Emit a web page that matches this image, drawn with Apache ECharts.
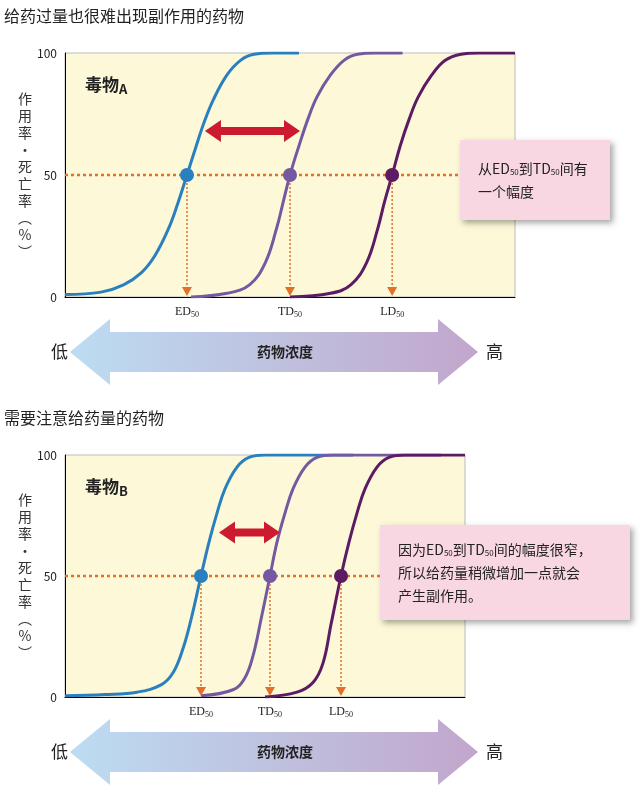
<!DOCTYPE html><html><head><meta charset="utf-8">
<script src="https://cdn.jsdelivr.net/npm/echarts@6/dist/echarts.min.js"></script>
<style>html,body{margin:0;padding:0;background:#fff}#c{width:643px;height:808px}</style></head><body><div id="c"></div>
<script>
const yTicks=[0,50,100];
const aBlue=[[0,1],[8,2],[13,5],[17,10],[20,17],[23,28],[25,38],[27.1,50],[29,61],[31,72],[33,81],[36,91],[39,97],[42,99.5],[46,100],[52,100]];
const aPurple=[[28,0],[36,1.5],[41,5],[44.5,14],[47,28],[48.5,39],[50,50],[52,62],[54,73],[56,82],[59,91],[62,97],[65,99.5],[69,100],[75,100]];
const aDark=[[50,0],[59,1.5],[63.5,5],[67,14],[69.5,28],[71,39],[72.7,50],[74.5,62],[76.5,73],[78.5,82],[81.5,91],[84.5,97],[88,99.5],[92,100],[100,100]];
const bBlue=[[0,0.5],[10,1],[18,2],[24,5],[27,10],[29.5,20],[31.5,32],[34,50],[36,64],[38,76],[40,86],[43,95],[46,99],[50,100],[72,100]];
const bPurple=[[34,0.5],[42,3],[45,8],[47,17],[49,32],[51.25,50],[53,64],[55,76],[57,86],[60,95],[63,99],[67,100],[94,100]];
const bDark=[[50,0],[58,2],[62,6],[64.5,14],[66.5,30],[69,50],[71,64],[73,76],[75,86],[78,95],[81,99],[85,100],[100,100]];
const aMid=[27.1,50,72.7], bMid=[34,51.25,69];
const midLabels=['ED','TD','LD'];
const colors=['#2a80bf','#7458a0','#5c1b62'];
const F='"Noto Sans CJK SC", sans-serif';
const chart=echarts.init(document.getElementById('c'));
function yAx(i){return {type:'value',gridIndex:i,min:0,max:100,interval:50,axisLine:{show:true,lineStyle:{color:'#000'}},axisTick:{show:false},splitLine:{show:false},axisLabel:{color:'#222',fontSize:12,fontFamily:F,margin:8}};}
function xAx(i){return {type:'value',gridIndex:i,min:0,max:100,axisLine:{show:true,lineStyle:{color:'#000'}},axisTick:{show:false},axisLabel:{show:false},splitLine:{show:false}};}
function curve(d,c,i){return {type:'line',xAxisIndex:i,yAxisIndex:i,data:d,smooth:0.4,showSymbol:false,lineStyle:{color:c,width:3},silent:true,z:3};}
const series=[curve(aBlue,colors[0],0),curve(aPurple,colors[1],0),curve(aDark,colors[2],0),curve(bBlue,colors[0],1),curve(bPurple,colors[1],1),curve(bDark,colors[2],1)];
series.push({type:'scatter',xAxisIndex:0,yAxisIndex:0,symbolSize:14,z:5,data:aMid.map((x,k)=>({value:[x,50],itemStyle:{color:colors[k],opacity:1}}))});
series.push({type:'scatter',xAxisIndex:1,yAxisIndex:1,symbolSize:14,z:5,data:bMid.map((x,k)=>({value:[x,50],itemStyle:{color:colors[k],opacity:1}}))});
chart.setOption({animation:false,
grid:[{left:65,top:53,width:450,height:244,show:true,backgroundColor:'#fcf8d8',borderColor:'#bbb'},{left:65,top:455,width:400,height:242,show:true,backgroundColor:'#fcf8d8',borderColor:'#bbb'}],
xAxis:[xAx(0),xAx(1)],yAxis:[yAx(0),yAx(1)],series});
const g=[];
const orange='#e0702a';
function txt(x,y,t,opt){g.push({type:'text',x,y,z:10,style:Object.assign({text:t,fill:'#222',font:'15px '+F},opt||{})});}
function arrowBig(yc){const x0=70,x1=478,hs=20,hh=33,hl=40;
 g.push({type:'polygon',z:1,shape:{points:[[x0,yc],[x0+hl,yc-hh],[x0+hl,yc-hs],[x1-hl,yc-hs],[x1-hl,yc-hh],[x1,yc],[x1-hl,yc+hh],[x1-hl,yc+hs],[x0+hl,yc+hs],[x0+hl,yc+hh]]},
 style:{fill:new echarts.graphic.LinearGradient(0,0,1,0,[{offset:0,color:'#bcdcf2'},{offset:1,color:'#c2a6cc'}])}});
 txt(68,yc,'低',{font:'17px '+F,verticalAlign:'middle',textAlign:'right'});
 txt(486,yc,'高',{font:'17px '+F,verticalAlign:'middle'});
 txt(285,yc,'药物浓度',{font:'bold 14px '+F,verticalAlign:'middle',textAlign:'center'});}
function panel(gi,mids,boxX,boxY,boxW,boxH,lines,arrowY,label,titleY,title){
 const p=mids.map(x=>chart.convertToPixel({gridIndex:gi},[x,50]));
 const y0=chart.convertToPixel({gridIndex:gi},[0,0])[1];
 const ya=chart.convertToPixel({gridIndex:gi},[0,arrowY])[1];
 const left=chart.convertToPixel({gridIndex:gi},[0,50])[0];
 txt(4,titleY,title,{font:'16px '+F,verticalAlign:'middle'});
 g.push({type:'line',z:4,shape:{x1:left,y1:p[0][1],x2:boxX,y2:p[0][1]},style:{stroke:orange,lineWidth:2.5,lineDash:[3,3]}});
 p.forEach((q,k)=>{g.push({type:'line',z:4,shape:{x1:q[0],y1:q[1],x2:q[0],y2:y0-8},style:{stroke:orange,lineWidth:1.5,lineDash:[2,2]}});
  g.push({type:'polygon',z:4,shape:{points:[[q[0]-5,y0-10],[q[0]+5,y0-10],[q[0],y0-1]]},style:{fill:orange}});
  g.push({type:'text',z:10,x:q[0],y:y0+15,style:{text:'{a|'+midLabels[k]+'}{s|50}',textAlign:'center',verticalAlign:'middle',rich:{a:{font:'12px "Liberation Serif", serif',fill:'#222'},s:{font:'8px "Liberation Serif", serif',fill:'#222',padding:[5,0,0,0]}}}});});
 const ax1=p[0][0]+18,ax2=p[1][0]+10;
 g.push({type:'polygon',z:6,shape:{points:[[ax1,ya],[ax1+16,ya-11],[ax1+16,ya-4],[ax2-16,ya-4],[ax2-16,ya-11],[ax2,ya],[ax2-16,ya+11],[ax2-16,ya+4],[ax1+16,ya+4],[ax1+16,ya+11]]},style:{fill:'#cc1a2e'}});
 g.push({type:'rect',z:7,shape:{x:boxX,y:boxY,width:boxW,height:boxH},style:{fill:'#f8d6e2',shadowBlur:6,shadowOffsetX:3,shadowOffsetY:3,shadowColor:'rgba(0,0,0,0.35)'}});
 g.push({type:'text',z:8,x:boxX+18,y:boxY+boxH/2,style:{text:lines,verticalAlign:'middle',lineHeight:23,font:'14px '+F,fill:'#222',rich:{s:{font:'8px '+F,padding:[6,0,0,0],fill:'#222'}}}});
 const gtop=chart.convertToPixel({gridIndex:gi},[0,100])[1];
 g.push({type:'text',z:8,x:85,y:gtop+32,style:{text:'{a|毒物}{b|'+label+'}',verticalAlign:'middle',rich:{a:{font:'bold 17px '+F,fill:'#222'},b:{font:'bold 13px '+F,fill:'#222',padding:[8,0,0,0]}}}});
 g.push({type:'text',z:8,x:25,y:(gtop+y0)/2,style:{text:'作\n用\n率\n・\n死\n亡\n率\n︵\n%\n︶',textAlign:'center',verticalAlign:'middle',lineHeight:17,font:'14px '+F,fill:'#333'}});
}
panel(0,aMid,460,140,150,80,'从ED{s|50}到TD{s|50}间有\n一个幅度',68,'A',16,'给药过量也很难出现副作用的药物');
panel(1,bMid,380,525,250,95,'因为ED{s|50}到TD{s|50}间的幅度很窄，\n所以给药量稍微增加一点就会\n产生副作用。',68,'B',418,'需要注意给药量的药物');
arrowBig(352);arrowBig(752);
chart.setOption({graphic:g});
</script></body></html>
